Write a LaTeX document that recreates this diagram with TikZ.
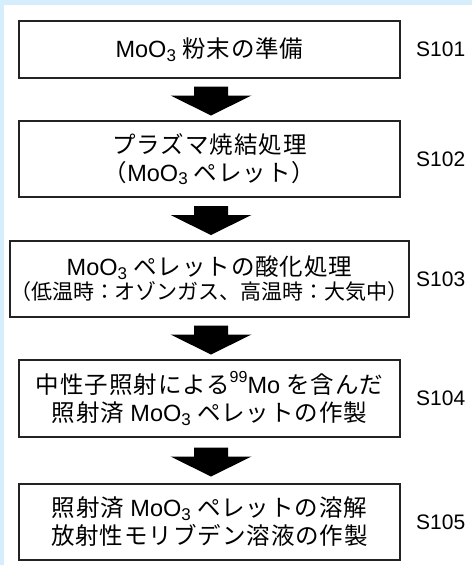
\documentclass[tikz,border=0pt]{standalone}
\usepackage{fontspec}
\usetikzlibrary{calc}
\setmainfont{Liberation Sans}
\newfontfamily\jpf[LetterSpace=4]{Noto Sans CJK JP}
\newfontfamily\jpn{Noto Sans CJK JP}
\newfontfamily\latf{Liberation Sans}
\definecolor{bgblue}{RGB}{214,238,251}
\definecolor{boxline}{RGB}{35,35,35}
\newcommand\moo{{\latf MoO\raisebox{-0.15em}{\fontsize{17}{17}\selectfont 3}}}
\newcommand\supnum[1]{\raisebox{0.45em}{\latf\fontsize{16}{16}\selectfont #1}}
\newcommand\blkarrow[1]{\fill[black] (#1) ++(-17,0) -- ++(34,0) -- ++(0,9) -- ++(23.5,0) -- ++(-40.5,20) -- ++(-40.5,-20) -- ++(23.5,0) -- cycle;}
\begin{document}
\begin{tikzpicture}[x=1pt,y=-1pt,
  box/.style={draw=boxline,line width=1.3pt,minimum width=381pt,inner sep=0pt,align=center,font=\jpf\fontsize{23.5}{28}\selectfont},
  lbl/.style={anchor=west,inner sep=0pt,font=\latf\fontsize{21}{21}\selectfont}]
\useasboundingbox (0,0) rectangle (472,565);
\fill[bgblue] (0,0) rectangle (472,565);
\fill[white] (4,5) rectangle (472,565);
\node[box,minimum height=57pt] (b1) at (209.5,49.5) {\moo\ 粉末の準備};
\node[box,minimum height=76pt] (b2) at (209.5,159) {プラズマ焼結処理\\（\moo\ ペレット）};
\node[box,minimum height=76pt] (b3) at (209.5,279) {\moo\ ペレットの酸化処理\\[-4pt]{\jpn\fontsize{21}{21}\selectfont （低温時：オゾンガス、高温時：大気中）}};
\node[box,minimum height=77pt] (b4) at (209.5,398.5) {中性子照射による\supnum{99}{\latf Mo} を含んだ\\照射済 \moo\ ペレットの作製};
\node[box,minimum height=76pt] (b5) at (209.5,522) {照射済 \moo\ ペレットの溶解\\放射性モリブデン溶液の作製};
\node[lbl] (s1) at (416,49.5) {S101};
\node[lbl] (s2) at (416,159) {S102};
\node[lbl] (s3) at (416,279) {S103};
\node[lbl] (s4) at (416,398.5) {S104};
\node[lbl] (s5) at (416,522) {S105};
\coordinate (a1) at ($(b1.south)!0.5!(b2.north)+(1.5,-13)$);
\coordinate (a2) at ($(b2.south)!0.5!(b3.north)+(1.5,-13)$);
\coordinate (a3) at ($(b3.south)!0.5!(b4.north)+(1.5,-13)$);
\coordinate (a4) at ($(b4.south)!0.5!(b5.north)+(1.5,-13)$);
\blkarrow{a1}
\blkarrow{a2}
\blkarrow{a3}
\blkarrow{a4}
\end{tikzpicture}
\end{document}
